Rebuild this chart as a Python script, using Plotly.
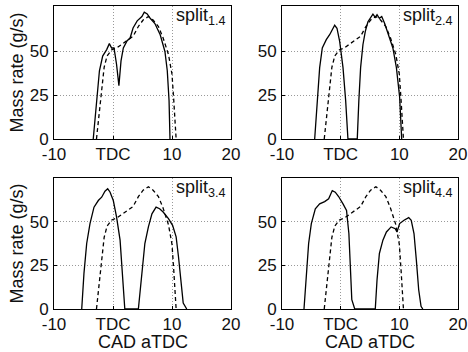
import plotly.graph_objects as go

# ---------------- data (CAD aTDC, mass rate g/s) ----------------
ref_x = [-2.8, -2.3, -1.9, -1.5, -1.0, -0.2, 0.6, 1.5, 2.6, 3.4, 4.3, 5.1, 6.0, 6.8, 7.7, 8.5, 9.4, 10.0, 10.3, 10.7]
ref_y = [0, 16, 29.5, 41, 47.5, 51, 52, 54.3, 56.8, 58.7, 64.3, 68, 70, 68, 64.3, 57.7, 48.3, 37, 22, 0]

s14_x = [-3.35, -2.8, -2.3, -1.75, -1.07, -0.62, -0.23, 0.17, 0.6, 1.0, 1.36, 1.75, 2.4, 2.9, 3.4, 4.1, 4.9, 5.3, 5.8, 6.3, 7.1, 8.0, 8.8, 9.2, 9.5, 9.66]
s14_y = [0, 22, 39, 47.4, 51.1, 54.5, 52, 52, 42.7, 30.5, 44.6, 52, 56.2, 57.7, 63.4, 67.5, 70, 72.5, 71.5, 69, 66, 59.6, 50, 39, 22, 0]

s24_x = [-4.43, -3.98, -3.58, -3.13, -2.45, -1.88, -1.43, -1.02, -0.63, -0.17, 0.4, 0.85, 1.24,
         2.83, 3.1, 3.4, 3.8, 4.2, 4.65, 5.2, 5.5, 5.9, 6.2, 6.6, 7.0, 7.5, 8.2, 8.9, 9.5, 10.05, 10.4]
s24_y = [0, 24, 40.8, 52, 56.8, 59.6, 62.4, 65, 63.3, 55.8, 40.8, 22, 0,
         0, 22, 40.8, 54, 61.5, 67, 70, 71.4, 69.5, 71, 69, 70, 66, 59.6, 52, 40.8, 24, 0]

s34_x = [-5.3, -4.92, -4.46, -3.9, -3.22, -2.49, -1.92, -1.36, -0.9, -0.51, 0.05, 0.6, 1.2, 1.6, 2.0,
         4.3, 4.9, 5.4, 6.0, 6.6, 7.3, 7.9, 8.5, 9.4, 10.1, 10.7, 11.1, 11.5, 11.9, 12.5]
s34_y = [0, 20.5, 37.5, 48.9, 58.3, 62.1, 64, 67.4, 68.8, 67, 62.1, 52.7, 39.4, 20.5, 0,
         0, 20.5, 37.5, 47, 54.5, 58.3, 57.4, 55.5, 51.7, 47.9, 41.3, 29.9, 14.8, 3.4, 0]

s44_x = [-6.25, -5.86, -5.46, -5.0, -4.32, -3.58, -2.73, -2.05, -1.77, -1.43, -0.92, -0.35, 0.4, 1.0, 1.4, 1.7, 1.9, 2.4,
         5.9, 6.2, 6.6, 7.2, 7.8, 8.6, 9.3, 9.6, 10.05, 10.8, 11.6, 12.03, 12.5, 12.9, 13.3, 13.7, 14.0]
s44_y = [0, 20.5, 37.5, 48.9, 57.4, 60.2, 61.5, 63.1, 65, 67.8, 66.9, 64.4, 60.2, 56.4, 43.2, 20.5, 5.3, 0,
         0, 16.7, 31.8, 39.4, 44.1, 47, 46, 44.1, 48.9, 50.8, 52.3, 50.8, 43.2, 28, 11, 1.5, 0]

label_main = "split"
label_subs = ["1.4", "2.4", "3.4", "4.4"]
x_ticks = [-10, 0, 10, 20]
x_ticktext = ["-10", "TDC", "10", "20"]
y_ticks = [0, 25, 50]

# ---------------- layout geometry ----------------
W, H = 468, 352
FONT = "Liberation Sans, Arial, Helvetica, sans-serif"
xdom = [[54 / W, 231 / W], [282 / W, 458 / W]]
ydom = [[1 - 139 / H, 1 - 6 / H], [1 - 309 / H, 1 - 178 / H]]
yranges = [[0, 76], [0, 75]]

fig = go.Figure()
series = [s14_x, s14_y], [s24_x, s24_y], [s34_x, s34_y], [s44_x, s44_y]
for i, (sx, sy) in enumerate(series):
    k = i + 1
    xa = "x" if k == 1 else f"x{k}"
    ya = "y" if k == 1 else f"y{k}"
    fig.add_trace(go.Scatter(x=ref_x, y=ref_y, mode="lines", xaxis=xa, yaxis=ya,
                             line=dict(color="black", width=1.3, dash="4px,3px"), showlegend=False))
    fig.add_trace(go.Scatter(x=sx, y=sy, mode="lines", xaxis=xa, yaxis=ya,
                             line=dict(color="black", width=1.3), showlegend=False))

layout = dict(width=W, height=H, margin=dict(l=0, r=0, t=0, b=0, autoexpand=False),
              template="none",
              paper_bgcolor="white", plot_bgcolor="white",
              font=dict(family=FONT, size=17, color="black"), showlegend=False)

axis_common = dict(showline=True, linecolor="black", linewidth=1, mirror=True, automargin=False,
                   showgrid=True, gridcolor="#999", gridwidth=1, griddash="1px,2px",
                   zeroline=False, ticks="inside", ticklen=3, tickcolor="black", tickwidth=1,
                   tickfont=dict(family=FONT, size=17, color="#111"))

for i in range(4):
    k = i + 1
    row, col = i // 2, i % 2
    xname = "xaxis" if k == 1 else f"xaxis{k}"
    yname = "yaxis" if k == 1 else f"yaxis{k}"
    yanchor = "y" if k == 1 else f"y{k}"
    xanchor = "x" if k == 1 else f"x{k}"
    layout[xname] = dict(axis_common, domain=xdom[col], range=[-10, 20], anchor=yanchor,
                         tickvals=x_ticks, ticktext=x_ticktext, ticklabelstandoff=0)
    layout[yname] = dict(axis_common, domain=ydom[row], range=yranges[row], anchor=xanchor,
                         tickvals=y_ticks, ticktext=[str(v) for v in y_ticks], ticklabelstandoff=1)

annotations = []
for i in range(4):
    row, col = i // 2, i % 2
    annotations.append(dict(text=f"{label_main}<sub>{label_subs[i]}</sub>",
                            xref="paper", yref="paper",
                            x=xdom[col][1] - 4 / W, y=ydom[row][1] + 2 / H,
                            xanchor="right", yanchor="top", showarrow=False, borderpad=0,
                            font=dict(family=FONT, size=18, color="#111")))
for row in range(2):
    annotations.append(dict(text="Mass rate (g/s)", xref="paper", yref="paper",
                            x=16 / W, y=(ydom[row][0] + ydom[row][1]) / 2, textangle=-90,
                            xanchor="center", yanchor="middle", showarrow=False,
                            font=dict(family=FONT, size=18, color="#111")))
for col in range(2):
    annotations.append(dict(text="CAD aTDC", xref="paper", yref="paper",
                            x=(xdom[col][0] + xdom[col][1]) / 2, y=1 - 341.5 / H,
                            xanchor="center", yanchor="middle", showarrow=False,
                            font=dict(family=FONT, size=18, color="#111")))
layout["annotations"] = annotations
fig.update_layout(**layout)
fig.write_html("out.html")
